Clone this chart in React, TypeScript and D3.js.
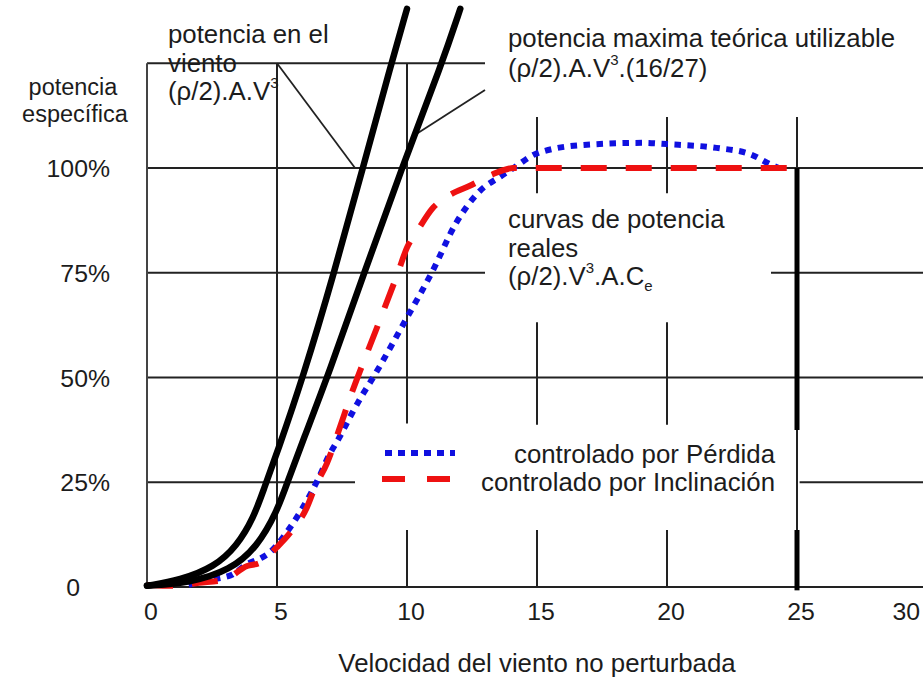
import React from "react";
import * as d3 from "d3";

// ---- data ----
const xTicks = [0, 5, 10, 15, 20, 25, 30];
const yTickValues = [0, 25, 50, 75, 100];
const yTickLabels = ["0", "25%", "50%", "75%", "100%"];

// potencia en el viento (rho/2).A.V^3
const windV = [0, 1.27, 2.6, 3.46, 4.1, 4.5, 5, 6, 7.2, 8.3, 9.4, 10];
const windP = [0.3, 1.6, 4.8, 9.8, 16.5, 23.5, 32, 50, 75, 100, 125, 138];

// potencia maxima teorica utilizable (Betz)
const betzV = [0, 1.65, 3.2, 4.23, 5, 5.4, 6, 7, 8.35, 9.8, 11.35, 12.05];
const betzP = [0.3, 1, 4, 9.5, 18, 25, 35, 51, 75, 100, 125, 138];

// controlado por Pérdida
const stallV = [1.6, 2, 2.7, 3.3, 3.85, 4.35, 4.73, 5, 5.38, 5.9, 6.27, 6.6, 7, 7.38, 7.88, 8.27, 8.6, 10, 10.95, 11.9, 12.8, 13.6, 14.1, 15, 16.8, 19.1, 20, 21.9, 23.2, 24.1, 24.3];
const stallP = [0.5, 1.2, 2, 3, 5.5, 6.8, 8.3, 10, 13.1, 18, 22, 26, 31.4, 35.5, 41.4, 45.7, 49, 64.3, 75, 87, 94.5, 98, 100, 103.5, 105.5, 106, 105.7, 104.8, 103.3, 100.5, 100];

// controlado por Inclinación
const pitchV = [0, 1, 2, 2.96, 3.85, 4.35, 5, 5.5, 6.15, 6.46, 6.92, 7.38, 7.8, 8.85, 9.65, 10, 10.4, 11, 11.5, 12.5, 13.3, 14.1, 25];
const pitchP = [0.5, 0.3, 1, 1.7, 5, 5.8, 9.5, 12.9, 19, 23.8, 29.5, 37.4, 45, 62, 75, 81, 85, 90.5, 93, 96, 98.5, 100, 100];

// grid pieces in data units
const hGridP = [125, 100, 75, 50, 25, 0];
const hGridSegs = [[[0, 13]], [[0, 30]], [[0, 13], [24, 30]], [[0, 30]], [[0, 8], [25.1, 30]], [[0, 30]]];
const vGridV = [0, 5, 10, 15, 20, 25];
const vGridSegs = [
  [[0, 125]],
  [[0, 125]],
  [[0, 13.6], [39, 125]],
  [[0, 13.6], [38.7, 63.2], [94, 112.2]],
  [[0, 13.6], [38.7, 63.2], [94, 112.2]],
  [[0, 112.2]],
];
const thickV = 25;
const thickSegs = [[37.5, 100], [-0.8, 13.6]];

const W = 923;
const H = 679;
const x = d3.scaleLinear().domain([0, 30]).range([147, 927]);
const y = d3.scaleLinear().domain([0, 100]).range([587, 168]);

const zip = (a: number[], b: number[]) => a.map((v, i) => [v, b[i]] as [number, number]);
const line = d3
  .line<[number, number]>()
  .x((d) => x(d[0]))
  .y((d) => y(d[1]))
  .curve(d3.curveMonotoneX);
const smooth = d3
  .line<[number, number]>()
  .x((d) => x(d[0]))
  .y((d) => y(d[1]))
  .curve(d3.curveBasis);

const FONT = "'Liberation Sans', Arial, Helvetica, sans-serif";
const TXT = "#1c1c1c";
const GRID = "#222";

export default function App() {
  const fs = 25.8;
  return (
    <svg
      width={W}
      height={H}
      viewBox={`0 0 ${W} ${H}`}
      style={{ position: "absolute", left: 0, top: 0, background: "#fff" }}
      fontFamily={FONT}
    >
      <rect width={W} height={H} fill="#fff" />
      {/* horizontal grid */}
      {hGridP.map((p, i) =>
        hGridSegs[i].map((s, j) => (
          <line key={`h${i}-${j}`} x1={x(s[0])} x2={x(s[1])} y1={y(p)} y2={y(p)} stroke={GRID} strokeWidth={2} />
        ))
      )}
      {/* vertical grid */}
      {vGridV.map((v, i) =>
        vGridSegs[i].map((s, j) => (
          <line key={`v${i}-${j}`} x1={x(v)} x2={x(v)} y1={y(s[0])} y2={y(s[1])} stroke={i === 0 ? "#444" : GRID} strokeWidth={2} />
        ))
      )}
      {thickSegs.map((s, j) => (
        <line key={`t${j}`} x1={x(thickV)} x2={x(thickV)} y1={y(s[0])} y2={y(s[1])} stroke="#000" strokeWidth={5} />
      ))}
      {/* annotation pointers */}
      <line x1={x(5)} y1={y(125)} x2={x(8)} y2={y(100)} stroke={GRID} strokeWidth={1.8} />
      <line x1={x(13)} y1={y(118.6)} x2={x(10.3)} y2={y(107.9)} stroke={GRID} strokeWidth={1.8} />

      {/* real power curves */}
      <path d={line(zip(stallV, stallP)) || ""} fill="none" stroke="#1010e0" strokeWidth={6} strokeDasharray="6.5 6.5" />
      <path d={line(zip(pitchV, pitchP)) || ""} fill="none" stroke="#ee1111" strokeWidth={6} strokeDasharray="26 19" />
      {/* wind power curves */}
      <path d={smooth(zip(windV, windP)) || ""} fill="none" stroke="#000" strokeWidth={6.5} strokeLinecap="round" />
      <path d={smooth(zip(betzV, betzP)) || ""} fill="none" stroke="#000" strokeWidth={6.5} strokeLinecap="round" />

      {/* legend */}
      <line x1={385} x2={455} y1={453} y2={453} stroke="#1010e0" strokeWidth={6} strokeDasharray="7 6" />
      <line x1={382} x2={453} y1={479} y2={479} stroke="#ee1111" strokeWidth={6} strokeDasharray="23 22" />
      <text x={775} y={463} fontSize={fs} fill={TXT} textAnchor="end">controlado por Pérdida</text>
      <text x={775} y={491} fontSize={fs} fill={TXT} textAnchor="end">controlado por Inclinación</text>

      {/* y ticks */}
      {yTickValues.map((p, i) => (
        <text key={`yt${i}`} x={p === 0 ? 80 : 110} y={y(p) + 9} fontSize={fs - 1} fill={TXT} textAnchor="end">
          {yTickLabels[i]}
        </text>
      ))}
      {/* x ticks */}
      {xTicks.map((v, i) => (
        <text
          key={`xt${i}`}
          x={i === xTicks.length - 1 ? 920 : x(v) + 4}
          y={620}
          fontSize={fs - 1}
          fill={TXT}
          textAnchor={i === xTicks.length - 1 ? "end" : "middle"}
        >
          {v}
        </text>
      ))}
      <text x={537} y={672} fontSize={fs} fill={TXT} textAnchor="middle">Velocidad del viento no perturbada</text>

      {/* y label */}
      <text x={73} y={95} fontSize={23.5} fill={TXT} textAnchor="middle">potencia</text>
      <text x={75} y={122} fontSize={23.5} fill={TXT} textAnchor="middle">específica</text>

      {/* annotations */}
      <text x={168} y={43} fontSize={fs} fill={TXT}>potencia en el</text>
      <text x={168} y={72} fontSize={fs} fill={TXT}>viento</text>
      <text x={168} y={100} fontSize={fs} fill={TXT}>
        (ρ/2).A.V<tspan dy={-12} fontSize={15}>3</tspan>
      </text>

      <text x={508} y={47} fontSize={fs} fill={TXT}>potencia maxima teórica utilizable</text>
      <text x={508} y={77} fontSize={fs} fill={TXT}>
        (ρ/2).A.V<tspan dy={-12} fontSize={15}>3</tspan>
        <tspan dy={12}>.(16/27)</tspan>
      </text>

      <text x={508} y={228} fontSize={fs} fill={TXT}>curvas de potencia</text>
      <text x={508} y={257} fontSize={fs} fill={TXT}>reales</text>
      <text x={508} y={285} fontSize={fs} fill={TXT}>
        (ρ/2).V<tspan dy={-12} fontSize={15}>3</tspan>
        <tspan dy={12}>.A.C</tspan>
        <tspan dy={6} fontSize={15}>e</tspan>
      </text>
    </svg>
  );
}
